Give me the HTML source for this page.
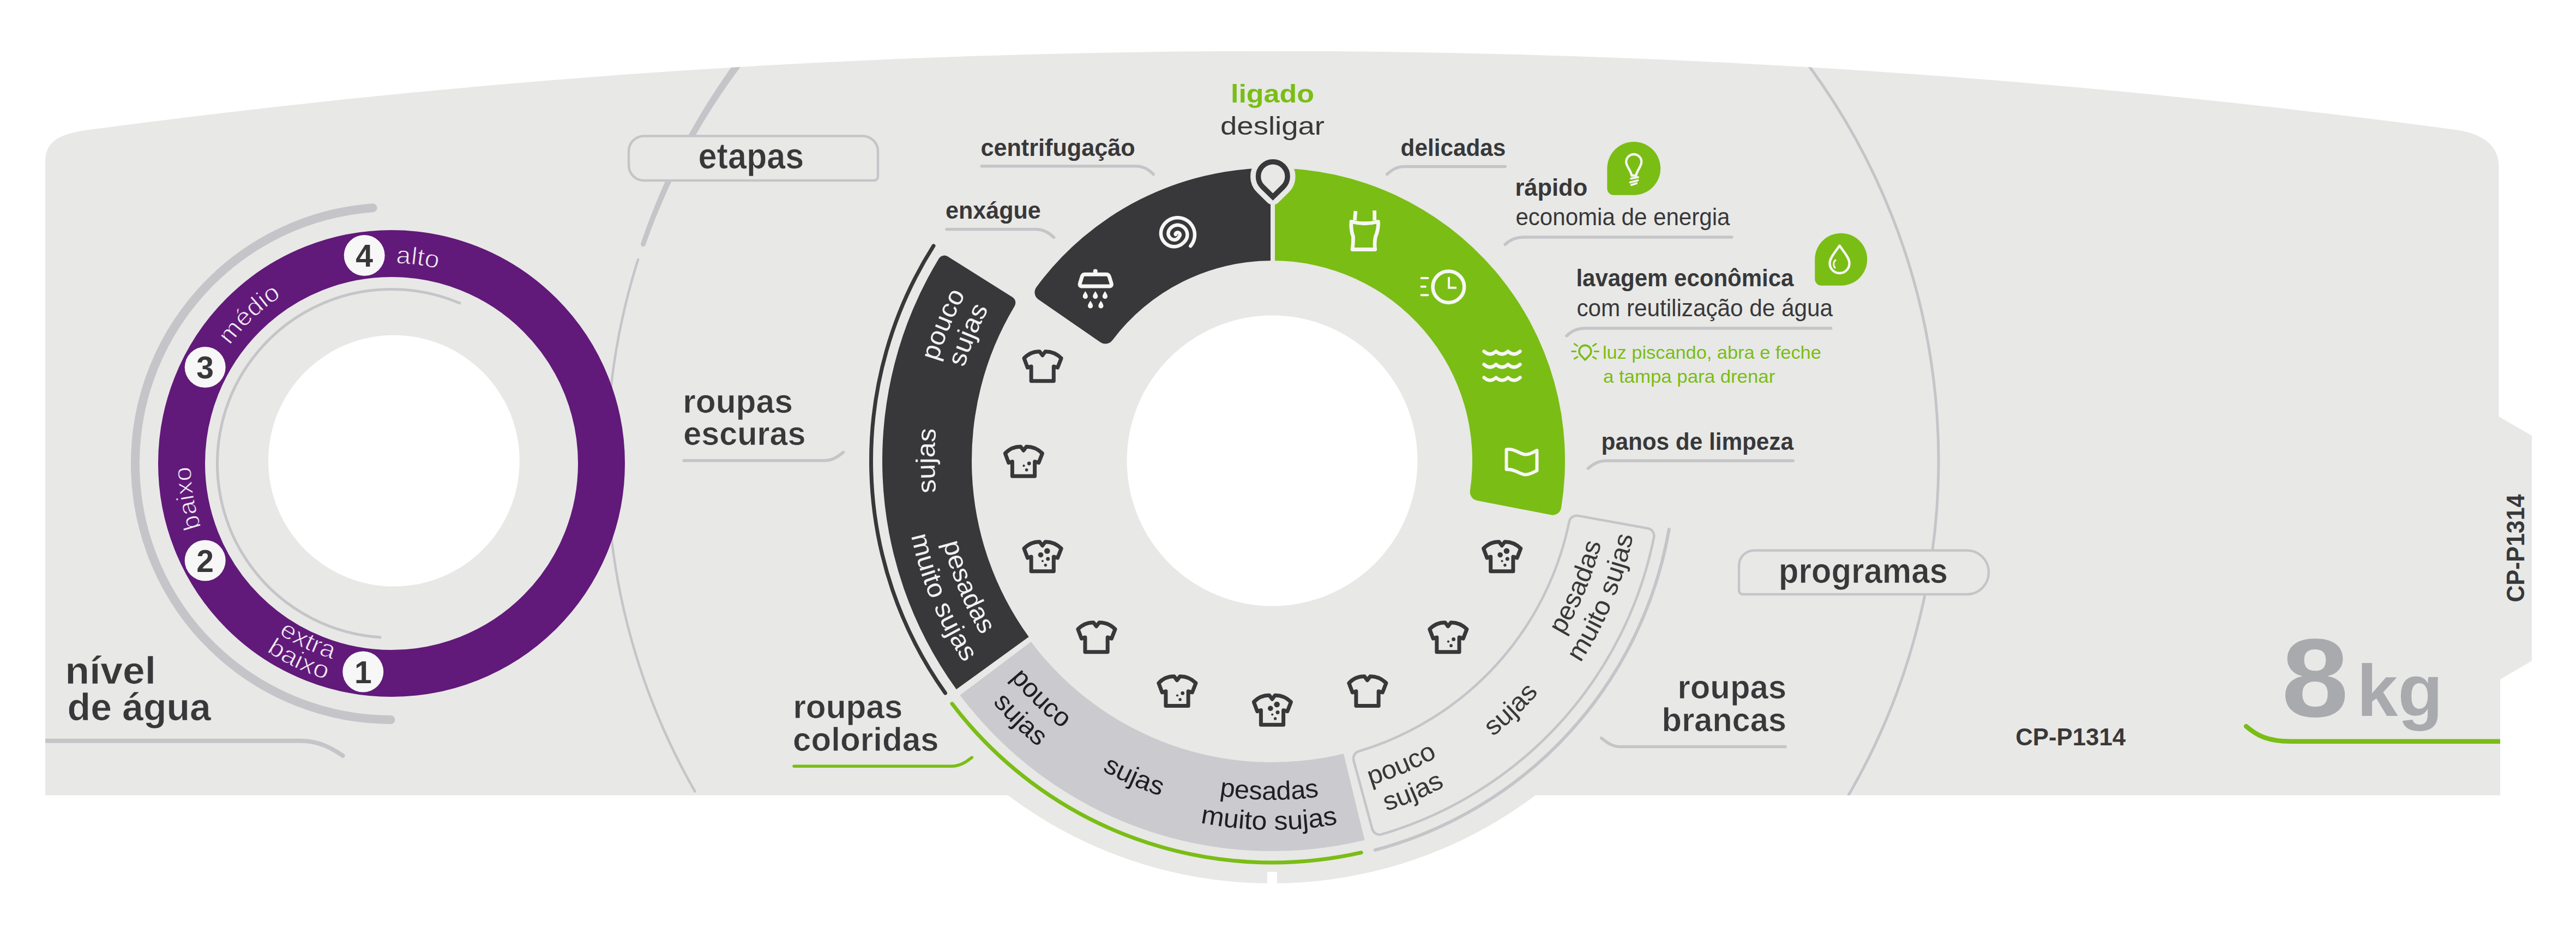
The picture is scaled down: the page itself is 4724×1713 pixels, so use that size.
<!DOCTYPE html><html><head><meta charset="utf-8"><style>html,body{margin:0;padding:0;background:#fff;overflow:hidden}svg{display:block}</style></head><body><svg width="4724" height="1713" viewBox="0 0 4724 1713"><defs><clipPath id="pc"><path d="M83,1458.5 L83,300 C83,262 100,245 175,236.46 A16391,16391 0 0 1 4500,237.5 C4545,243.48 4582.5,262 4582.5,305 L4582.5,764 L4643,799 L4643,1212 L4585,1246 L4585,1458.5 Z"/></clipPath><path id="tp1" d="M367.6,740.86 A367,367 0 0 1 1084.59,832.71"/><path id="tp2" d="M412.32,1053.09 A367,367 0 0 1 935.78,554.6"/><path id="tp3" d="M716.07,1217.99 A368,368 0 0 1 593.95,503.54"/><path id="tp4" d="M356.12,751.68 A375,375 0 0 0 1024.43,1066.16"/><path id="tp5" d="M318.67,740.76 A414,414 0 0 0 1055.88,1089.23"/><path id="tp6" d="M1989.13,1384.77 A640,640 0 0 1 2471.52,220.17"/><path id="tp7" d="M2015.99,1342.6 A590,590 0 0 1 2460.7,268.99"/><path id="tp8" d="M2225.51,1454.6 A619,619 0 0 1 2225.51,235.4"/><path id="tp9" d="M1998.8,320.41 A622,622 0 0 0 2467.63,1452.26"/><path id="tp10" d="M1969.79,274.87 A676,676 0 0 0 2479.31,1504.98"/><path id="tp11" d="M1816.9,494.26 A624,624 0 0 0 2698.01,1351.1"/><path id="tp12" d="M1772.24,463.91 A678,678 0 0 0 2729.6,1394.9"/><path id="tp13" d="M1703.17,692.63 A648,648 0 0 0 2872.73,1203.6"/><path id="tp14" d="M1719.53,947.66 A622,622 0 0 0 2944.58,958.35"/><path id="tp15" d="M1665.28,956.74 A677,677 0 0 0 2998.66,968.37"/><path id="tp16" d="M1811.35,1183.77 A622,622 0 0 0 2939.06,705.08"/><path id="tp17" d="M1766.06,1213.18 A676,676 0 0 0 2991.67,692.93"/><path id="tp18" d="M1950.29,1367.91 A648,648 0 0 0 2871.48,484.52"/><path id="tp19" d="M2198.37,1452.26 A622,622 0 0 0 2667.2,320.41"/><path id="tp20" d="M2186.69,1504.98 A676,676 0 0 0 2696.21,274.87"/></defs><path d="M83,1458.5 L83,300 C83,262 100,245 175,236.46 A16391,16391 0 0 1 4500,237.5 C4545,243.48 4582.5,262 4582.5,305 L4582.5,764 L4643,799 L4643,1212 L4585,1246 L4585,1458.5 Z" fill="#e8e8e6"/>
<path d="M1625.03,1200 A805,805 0 0 0 3039.17,1200 Z" fill="#e8e8e6"/>
<rect x="2324" y="1599" width="18" height="30" fill="#fff"/>
<g clip-path="url(#pc)">
<path d="M1274.33,1451.31 A1220,1220 0 0 1 1170.11,476.11" fill="none" stroke="#c5c5c9" stroke-width="4.5" stroke-linecap="round"/>
<path d="M1175.21,446.34 L1178.5,436.74 L1181.88,427.16 L1185.33,417.61 L1188.86,408.09 L1192.47,398.6 L1196.15,389.14 L1199.92,379.71 L1203.76,370.31 L1207.69,360.95 L1211.69,351.61 L1215.76,342.31 L1219.92,333.04 L1224.15,323.81 L1228.46,314.61 L1232.84,305.44 L1237.3,296.32 L1241.84,287.23 L1246.45,278.17 L1251.14,269.16 L1255.9,260.18 L1260.74,251.25 L1265.65,242.35 L1270.63,233.49 L1275.69,224.68 L1280.82,215.91 L1286.02,207.18 L1291.3,198.49 L1296.65,189.84 L1302.07,181.24 L1307.56,172.69 L1313.12,164.18 L1318.75,155.72 L1324.45,147.3 L1330.23,138.93 L1336.07,130.61 L1341.98,122.34 L1347.96,114.11 L1354.01,105.94 L1360.12,97.81 L1366.31,89.74 L1376.95,98.05 L1370.74,105.97 L1364.6,113.93 L1358.53,121.95 L1352.52,130.02 L1346.59,138.15 L1340.71,146.31 L1334.91,154.53 L1329.17,162.8 L1323.5,171.11 L1317.91,179.47 L1312.38,187.88 L1306.92,196.34 L1301.53,204.84 L1296.21,213.38 L1290.96,221.97 L1285.78,230.6 L1280.67,239.27 L1275.64,247.99 L1270.68,256.75 L1265.79,265.55 L1260.97,274.39 L1256.23,283.27 L1251.56,292.19 L1246.96,301.15 L1242.44,310.15 L1237.99,319.18 L1233.62,328.26 L1229.32,337.36 L1225.1,346.51 L1220.95,355.69 L1216.88,364.9 L1212.89,374.15 L1208.97,383.43 L1205.13,392.74 L1201.37,402.09 L1197.68,411.47 L1194.08,420.87 L1190.55,430.31 L1187.1,439.78 L1183.72,449.27 Z" fill="#c5c5c9"/>
<circle cx="1179.47" cy="447.81" r="4.5" fill="#c5c5c9"/>
<path d="M3295.95,92.66 A1222,1222 0 0 1 3389.14,1459.69" fill="none" stroke="#c5c5c9" stroke-width="5"/>
</g>
<path d="M683.58,381.26 A470,470 0 0 0 716.36,1320" fill="none" stroke="#c5c5c9" stroke-width="16" stroke-linecap="round"/>
<circle cx="718" cy="850" r="385" fill="none" stroke="#61197a" stroke-width="86"/>
<path d="M844.89,556.78 A319.5,319.5 0 1 0 699.05,1168.94" fill="none" stroke="#c5c5c9" stroke-width="5"/>
<circle cx="722.4" cy="845.2" r="230.4" fill="#fff"/>
<circle cx="668.2" cy="468.5" r="37.5" fill="#f7f7f7"/>
<text x="668.2" y="489" font-family='"Liberation Sans", sans-serif' font-size="57" font-weight="bold" fill="#38383a" text-anchor="middle">4</text>
<circle cx="376.2" cy="673.5" r="37.5" fill="#f7f7f7"/>
<text x="376.2" y="694" font-family='"Liberation Sans", sans-serif' font-size="57" font-weight="bold" fill="#38383a" text-anchor="middle">3</text>
<circle cx="376.2" cy="1028" r="37.5" fill="#f7f7f7"/>
<text x="376.2" y="1048.5" font-family='"Liberation Sans", sans-serif' font-size="57" font-weight="bold" fill="#38383a" text-anchor="middle">2</text>
<circle cx="665.8" cy="1232" r="37.5" fill="#f7f7f7"/>
<text x="665.8" y="1252.5" font-family='"Liberation Sans", sans-serif' font-size="57" font-weight="bold" fill="#38383a" text-anchor="middle">1</text>
<text font-family='"Liberation Sans", sans-serif' font-size="45" font-weight="normal" fill="#f4eef6" stroke="#61197a" stroke-width="1.0"><textPath href="#tp1" startOffset="50%" text-anchor="middle" textLength="78" lengthAdjust="spacingAndGlyphs">alto</textPath></text>
<text font-family='"Liberation Sans", sans-serif' font-size="45" font-weight="normal" fill="#f4eef6" stroke="#61197a" stroke-width="1.0"><textPath href="#tp2" startOffset="50%" text-anchor="middle" textLength="132" lengthAdjust="spacingAndGlyphs">médio</textPath></text>
<text font-family='"Liberation Sans", sans-serif' font-size="45" font-weight="normal" fill="#f4eef6" stroke="#61197a" stroke-width="1.0"><textPath href="#tp3" startOffset="50%" text-anchor="middle" textLength="114" lengthAdjust="spacingAndGlyphs">baixo</textPath></text>
<text font-family='"Liberation Sans", sans-serif' font-size="45" font-weight="normal" fill="#f4eef6" stroke="#61197a" stroke-width="1.0"><textPath href="#tp4" startOffset="50%" text-anchor="middle" textLength="110" lengthAdjust="spacingAndGlyphs">extra</textPath></text>
<text font-family='"Liberation Sans", sans-serif' font-size="45" font-weight="normal" fill="#f4eef6" stroke="#61197a" stroke-width="1.0"><textPath href="#tp5" startOffset="50%" text-anchor="middle" textLength="122" lengthAdjust="spacingAndGlyphs">baixo</textPath></text>
<text x="119.2" y="1254.4" font-family='"Liberation Sans", sans-serif' font-size="70" font-weight="bold" fill="#38383a" text-anchor="start" textLength="166.8" lengthAdjust="spacingAndGlyphs" stroke="#e8e8e6" stroke-width="0.7">nível</text>
<text x="123.6" y="1321" font-family='"Liberation Sans", sans-serif' font-size="70" font-weight="bold" fill="#38383a" text-anchor="start" textLength="263.2" lengthAdjust="spacingAndGlyphs" stroke="#e8e8e6" stroke-width="0.7">de água</text>
<path clip-path="url(#pc)" d="M70,1358.8 L551,1358.8 C585,1358.8 608,1372 628.6,1386" fill="none" stroke="#c5c5c9" stroke-width="8" stroke-linecap="round"/>
<path d="M1181,249.5 L1582,249.5 A28,28 0 0 1 1610,277.5 L1610,324 A7,7 0 0 1 1603,331 L1181,331 A28,28 0 0 1 1153,303 L1153,277.5 A28,28 0 0 1 1181,249.5 Z" fill="#e8e8e6" stroke="#c5c5c9" stroke-width="4.5"/>
<text x="1280.6" y="309" font-family='"Liberation Sans", sans-serif' font-size="66" font-weight="bold" fill="#38383a" text-anchor="start" textLength="193.8" lengthAdjust="spacingAndGlyphs" stroke="#e8e8e6" stroke-width="0.7">etapas</text>
<path d="M3217,1009.5 L3607,1009.5 A40,40 0 0 1 3647,1049.5 L3647,1050 A40,40 0 0 1 3607,1090 L3196,1090 A7,7 0 0 1 3189,1083 L3189,1037.5 A28,28 0 0 1 3217,1009.5 Z" fill="#e8e8e6" stroke="#c5c5c9" stroke-width="4.5"/>
<text x="3261.8" y="1068.6" font-family='"Liberation Sans", sans-serif' font-size="64" font-weight="bold" fill="#38383a" text-anchor="start" textLength="310.1" lengthAdjust="spacingAndGlyphs" stroke="#e8e8e6" stroke-width="0.7">programas</text>
<path d="M1733.47,1271.06 A735.5,735.5 0 0 1 1712,450.9" fill="none" stroke="#38383a" stroke-width="7" stroke-linecap="round"/>
<path d="M2496.28,1563.69 A737,737 0 0 1 1745.96,1290.59" fill="none" stroke="#7abd15" stroke-width="7" stroke-linecap="round"/>
<path d="M3060.72,970.7 A738.5,738.5 0 0 1 2521.65,1559" fill="none" stroke="#c5c5c9" stroke-width="6" stroke-linecap="round"/>
<path d="M1753.82,1264.26 A715,715 0 0 1 1721.56,474.38 A12,12 0 0 1 1738.21,470.44 L1856.7,545.06 A12,12 0 0 1 1860.6,561.39 A551,551 0 0 0 1886.67,1168.09 Z" fill="#38383a"/>
<path d="M2502.58,1540.63 A716,716 0 0 1 1760.43,1274.9 L1890.77,1177.03 A553,553 0 0 0 2463.97,1382.27 Z" fill="#cbcbcf"/>
<path d="M3021.8,968.93 A14,14 0 0 1 3033.05,985.47 A714,714 0 0 1 2533.95,1530.14 A14,14 0 0 1 2516.5,1520.38 L2482.4,1394.89 A14,14 0 0 1 2491.91,1377.81 A556,556 0 0 0 2877.63,956.87 A14,14 0 0 1 2893.82,945.91 Z" fill="none" stroke="#c5c5c9" stroke-width="4.5"/>
<path d="M1904.35,549.29 A16,16 0 0 1 1900.55,526.64 A537,537 0 0 1 2333,308 L2333,478 A367,367 0 0 0 2039.88,624.16 A16,16 0 0 1 2018.01,627.71 Z" fill="#38383a"/>
<path d="M2333,308 A537,537 0 0 1 2863.03,931.23 A16,16 0 0 1 2844.19,944.36 L2708.64,918.02 A16,16 0 0 1 2695.87,899.92 A367,367 0 0 0 2333,478 Z" fill="#7abd15"/>
<circle cx="2333" cy="845" r="266.5" fill="#fff"/>
<rect x="2330" y="300" width="8" height="182" fill="#e8e8e6"/>
<path d="M2334.3,361.1 L2315.55,342.75 A26.8,26.8 0 1 1 2353.05,342.75 Z" fill="#e8e8e6" stroke="#e8e8e6" stroke-width="29" stroke-linejoin="round"/>
<path d="M2334.3,361.1 L2315.55,342.75 A26.8,26.8 0 1 1 2353.05,342.75 Z" fill="#e8e8e6" stroke="#38383a" stroke-width="9.5" stroke-linejoin="miter"/>
<g fill="none" stroke="#f6f6f4" stroke-width="7" stroke-linejoin="round" stroke-linecap="round">
<path d="M1989,503.3 L2029,503.3 Q2033,503.3 2034.5,508 L2038,519.5 Q2039.5,525 2034,525 L1984.5,525 Q1979,525 1980.5,519.5 L1984,508 Q1985.5,503.3 1989,503.3 Z"/>
</g>
<circle cx="2008.7" cy="497.5" r="4" fill="#f6f6f4"/>
<path transform="translate(1990.3,541)" d="M0,-7 C2,-3.5 4.6,-0.5 4.6,2.4 A4.6,4.6 0 0 1 -4.6,2.4 C-4.6,-0.5 -2,-3.5 0,-7 Z" fill="#f6f6f4"/>
<path transform="translate(2008.7,541)" d="M0,-7 C2,-3.5 4.6,-0.5 4.6,2.4 A4.6,4.6 0 0 1 -4.6,2.4 C-4.6,-0.5 -2,-3.5 0,-7 Z" fill="#f6f6f4"/>
<path transform="translate(2026.4,541)" d="M0,-7 C2,-3.5 4.6,-0.5 4.6,2.4 A4.6,4.6 0 0 1 -4.6,2.4 C-4.6,-0.5 -2,-3.5 0,-7 Z" fill="#f6f6f4"/>
<path transform="translate(1999.6,558.5)" d="M0,-7 C2,-3.5 4.6,-0.5 4.6,2.4 A4.6,4.6 0 0 1 -4.6,2.4 C-4.6,-0.5 -2,-3.5 0,-7 Z" fill="#f6f6f4"/>
<path transform="translate(2018.9,558.5)" d="M0,-7 C2,-3.5 4.6,-0.5 4.6,2.4 A4.6,4.6 0 0 1 -4.6,2.4 C-4.6,-0.5 -2,-3.5 0,-7 Z" fill="#f6f6f4"/>
<path d="M2183.27,451.17 L2184.87,449.16 L2186.3,447.02 L2187.55,444.78 L2188.62,442.44 L2189.49,440.03 L2190.15,437.55 L2190.62,435.03 L2190.88,432.47 L2190.93,429.91 L2190.77,427.35 L2190.4,424.82 L2189.83,422.32 L2189.05,419.88 L2188.08,417.51 L2186.92,415.22 L2185.58,413.04 L2184.06,410.98 L2182.38,409.05 L2180.55,407.26 L2178.58,405.63 L2176.49,404.16 L2174.28,402.87 L2171.98,401.77 L2169.59,400.85 L2167.14,400.13 L2164.64,399.62 L2162.11,399.31 L2159.55,399.21 L2157,399.32 L2154.47,399.63 L2151.98,400.15 L2149.53,400.87 L2147.15,401.79 L2144.86,402.9 L2142.66,404.19 L2140.57,405.66 L2138.62,407.29 L2136.8,409.07 L2135.14,411 L2133.63,413.05 L2132.3,415.22 L2131.16,417.49 L2130.21,419.85 L2129.52,422.3 L2129.08,424.79 L2128.91,427.31 L2129,429.82 L2129.34,432.29 L2129.92,434.7 L2130.72,437.01 L2131.74,439.21 L2132.96,441.28 L2134.35,443.19 L2135.89,444.94 L2137.56,446.51 L2139.35,447.89 L2141.22,449.09 L2143.16,450.08 L2145.13,450.89 L2147.13,451.5 L2149.13,451.92 L2151.12,452.17 L2153.07,452.25 L2154.97,452.17 L2156.82,451.95 L2158.6,451.59 L2160.3,451.11 L2161.92,450.52 L2163.46,449.84 L2164.92,449.08 L2166.29,448.25 L2167.58,447.36 L2168.79,446.42 L2169.94,445.44 L2171.02,444.41 L2172.05,443.36 L2173.02,442.26 L2173.93,441.12 L2174.74,439.9 L2175.45,438.63 L2176.05,437.3 L2176.54,435.92 L2176.92,434.51 L2177.18,433.08 L2177.33,431.63 L2177.35,430.17 L2177.26,428.72 L2177.05,427.28 L2176.72,425.86 L2176.28,424.48 L2175.72,423.13 L2175.06,421.84 L2174.3,420.6 L2173.44,419.43 L2172.48,418.34 L2171.44,417.33 L2170.33,416.4 L2169.14,415.58 L2167.88,414.85 L2166.58,414.22 L2165.23,413.71 L2163.84,413.3 L2162.42,413.01 L2160.98,412.84 L2159.54,412.79 L2158.1,412.85 L2156.66,413.03 L2155.25,413.33 L2153.87,413.74 L2152.52,414.26 L2151.23,414.89 L2149.99,415.62 L2148.81,416.45 L2147.7,417.38 L2146.68,418.39 L2145.74,419.48 L2144.89,420.64 L2144.15,421.87 L2143.5,423.15 L2142.97,424.48 L2142.61,425.87 L2142.43,427.29 L2142.42,428.71 L2142.57,430.12 L2142.89,431.48 L2143.36,432.78 L2143.96,434.01 L2144.69,435.14 L2145.53,436.16 L2146.46,437.07 L2147.47,437.85 L2148.53,438.5 L2149.62,439.02 L2150.74,439.4 L2151.85,439.66 L2152.95,439.79 L2154.02,439.8 L2155.04,439.7 L2156.01,439.51 L2156.91,439.23 L2157.74,438.88 L2158.5,438.48 L2159.17,438.02 L2159.77,437.54 L2160.29,437.04 L2160.73,436.54 L2161.11,436.05 L2161.44,435.57 L2161.71,435.12 L2161.95,434.7 L2162.16,434.31 L2162.36,433.96 L2162.56,433.64 L2162.78,433.35 L2162.99,433.07 L2163.18,432.78 L2163.35,432.46 L2163.49,432.14 L2163.6,431.81 L2163.69,431.47 L2163.75,431.12 L2163.78,430.77 L2163.78,430.42 L2163.75,430.08 L2163.69,429.73 L2163.61,429.4 L2163.5,429.07 L2163.36,428.75 L2163.2,428.44 L2163.01,428.15 L2162.8,427.88 L2162.57,427.62 L2162.32,427.39 L2162.06,427.17 L2161.77,426.98 L2161.48,426.82 L2161.17,426.67 L2160.85,426.56 L2160.52,426.47 L2160.18,426.41 L2159.85,426.37 L2159.51,426.37 L2159.17,426.39 L2158.84,426.43 L2158.51,426.51 L2158.19,426.61 L2157.88,426.73 L2157.59,426.89 L2157.3,427.06 L2157.03,427.26 L2156.78,427.47 L2156.55,427.71 L2156.34,427.96 L2156.15,428.24 L2155.98,428.52 L2155.84,428.82 L2155.73,429.13 L2155.71,429.46 L2155.77,429.8 L2155.92,430.12" fill="none" stroke="#f6f6f4" stroke-width="6.5" stroke-linecap="round"/>
<path d="M2485.8,387 L2484.5,404 M2520.7,386 L2520.7,404 M2478,406.5 Q2502.5,413 2527.5,406.5 Q2528,422 2522.5,434 Q2520,446 2521.7,457.5 L2480,457.5 Q2482,446 2481.5,434 Q2477,422 2478,406.5 Z" fill="none" stroke="#f6f6f4" stroke-width="6.8" stroke-linejoin="round" stroke-linecap="butt"/>
<circle cx="2656.4" cy="526.2" r="28.8" fill="none" stroke="#f6f6f4" stroke-width="6.5"/>
<path d="M2657,508 L2657,527.8 L2671,527.8" fill="none" stroke="#f6f6f4" stroke-width="4"/><path d="M2606.5,510 L2618.5,510 M2606.5,525.7 L2614,525.7 M2606.5,541.2 L2618.5,541.2" fill="none" stroke="#f6f6f4" stroke-width="4" stroke-linecap="round"/>
<path d="M2721.5,644.3 Q2732.5,654.3 2743.5,644.3 Q2754.5,654.3 2765.5,644.3 Q2776.5,654.3 2787.5,644.3M2721.5,668.4 Q2732.5,678.4 2743.5,668.4 Q2754.5,678.4 2765.5,668.4 Q2776.5,678.4 2787.5,668.4M2721.5,692.5 Q2732.5,702.5 2743.5,692.5 Q2754.5,702.5 2765.5,692.5 Q2776.5,702.5 2787.5,692.5" fill="none" stroke="#f6f6f4" stroke-width="6.4" stroke-linecap="round" stroke-linejoin="round"/>
<path d="M2762.5,824.5 C2776,822 2786,832 2796,833.5 C2805,834.5 2812,829 2818.5,826 L2818.5,863 C2812,866 2805,871 2796,870.5 C2786,869 2776,859.5 2762.5,861 Z" fill="none" stroke="#f6f6f4" stroke-width="6" stroke-linejoin="round"/>
<g transform="translate(1911.71,671.5)"><path d="M-5.4,-26.8 L0,-19.8 L5.4,-26.8 Q22,-27 34.5,-14.5 L27.8,2.7 L20.6,0.5 L20.6,27.3 L-20.6,27.3 L-20.6,0.5 L-27.3,2.7 L-33.7,-14.5 Q-22,-27 -5.4,-26.8 Z" fill="none" stroke="#38383a" stroke-width="7" stroke-linejoin="round"/></g>
<g transform="translate(1877,846)"><path d="M-5.4,-26.8 L0,-19.8 L5.4,-26.8 Q22,-27 34.5,-14.5 L27.8,2.7 L20.6,0.5 L20.6,27.3 L-20.6,27.3 L-20.6,0.5 L-27.3,2.7 L-33.7,-14.5 Q-22,-27 -5.4,-26.8 Z" fill="none" stroke="#38383a" stroke-width="7" stroke-linejoin="round"/><circle cx="10.2" cy="4" r="3.4" fill="#38383a"/><circle cx="0.5" cy="8.2" r="2.1" fill="#38383a"/><circle cx="5.6" cy="15.7" r="2.8" fill="#38383a"/></g>
<g transform="translate(1911.71,1020.5)"><path d="M-5.4,-26.8 L0,-19.8 L5.4,-26.8 Q22,-27 34.5,-14.5 L27.8,2.7 L20.6,0.5 L20.6,27.3 L-20.6,27.3 L-20.6,0.5 L-27.3,2.7 L-33.7,-14.5 Q-22,-27 -5.4,-26.8 Z" fill="none" stroke="#38383a" stroke-width="7" stroke-linejoin="round"/><circle cx="8.6" cy="-10" r="5.3" fill="#38383a"/><circle cx="-3.2" cy="-2.8" r="4.8" fill="#38383a"/><circle cx="10" cy="4.4" r="3.5" fill="#38383a"/><circle cx="0.2" cy="8.5" r="2.1" fill="#38383a"/><circle cx="5.6" cy="16" r="2.7" fill="#38383a"/></g>
<g transform="translate(2010.56,1168.44)"><path d="M-5.4,-26.8 L0,-19.8 L5.4,-26.8 Q22,-27 34.5,-14.5 L27.8,2.7 L20.6,0.5 L20.6,27.3 L-20.6,27.3 L-20.6,0.5 L-27.3,2.7 L-33.7,-14.5 Q-22,-27 -5.4,-26.8 Z" fill="none" stroke="#38383a" stroke-width="7" stroke-linejoin="round"/></g>
<g transform="translate(2158.5,1267.29)"><path d="M-5.4,-26.8 L0,-19.8 L5.4,-26.8 Q22,-27 34.5,-14.5 L27.8,2.7 L20.6,0.5 L20.6,27.3 L-20.6,27.3 L-20.6,0.5 L-27.3,2.7 L-33.7,-14.5 Q-22,-27 -5.4,-26.8 Z" fill="none" stroke="#38383a" stroke-width="7" stroke-linejoin="round"/><circle cx="10.2" cy="4" r="3.4" fill="#38383a"/><circle cx="0.5" cy="8.2" r="2.1" fill="#38383a"/><circle cx="5.6" cy="15.7" r="2.8" fill="#38383a"/></g>
<g transform="translate(2333,1302)"><path d="M-5.4,-26.8 L0,-19.8 L5.4,-26.8 Q22,-27 34.5,-14.5 L27.8,2.7 L20.6,0.5 L20.6,27.3 L-20.6,27.3 L-20.6,0.5 L-27.3,2.7 L-33.7,-14.5 Q-22,-27 -5.4,-26.8 Z" fill="none" stroke="#38383a" stroke-width="7" stroke-linejoin="round"/><circle cx="8.6" cy="-10" r="5.3" fill="#38383a"/><circle cx="-3.2" cy="-2.8" r="4.8" fill="#38383a"/><circle cx="10" cy="4.4" r="3.5" fill="#38383a"/><circle cx="0.2" cy="8.5" r="2.1" fill="#38383a"/><circle cx="5.6" cy="16" r="2.7" fill="#38383a"/></g>
<g transform="translate(2507.5,1267.29)"><path d="M-5.4,-26.8 L0,-19.8 L5.4,-26.8 Q22,-27 34.5,-14.5 L27.8,2.7 L20.6,0.5 L20.6,27.3 L-20.6,27.3 L-20.6,0.5 L-27.3,2.7 L-33.7,-14.5 Q-22,-27 -5.4,-26.8 Z" fill="none" stroke="#38383a" stroke-width="7" stroke-linejoin="round"/></g>
<g transform="translate(2655.44,1168.44)"><path d="M-5.4,-26.8 L0,-19.8 L5.4,-26.8 Q22,-27 34.5,-14.5 L27.8,2.7 L20.6,0.5 L20.6,27.3 L-20.6,27.3 L-20.6,0.5 L-27.3,2.7 L-33.7,-14.5 Q-22,-27 -5.4,-26.8 Z" fill="none" stroke="#38383a" stroke-width="7" stroke-linejoin="round"/><circle cx="10.2" cy="4" r="3.4" fill="#38383a"/><circle cx="0.5" cy="8.2" r="2.1" fill="#38383a"/><circle cx="5.6" cy="15.7" r="2.8" fill="#38383a"/></g>
<g transform="translate(2754.29,1020.5)"><path d="M-5.4,-26.8 L0,-19.8 L5.4,-26.8 Q22,-27 34.5,-14.5 L27.8,2.7 L20.6,0.5 L20.6,27.3 L-20.6,27.3 L-20.6,0.5 L-27.3,2.7 L-33.7,-14.5 Q-22,-27 -5.4,-26.8 Z" fill="none" stroke="#38383a" stroke-width="7" stroke-linejoin="round"/><circle cx="8.6" cy="-10" r="5.3" fill="#38383a"/><circle cx="-3.2" cy="-2.8" r="4.8" fill="#38383a"/><circle cx="10" cy="4.4" r="3.5" fill="#38383a"/><circle cx="0.2" cy="8.5" r="2.1" fill="#38383a"/><circle cx="5.6" cy="16" r="2.7" fill="#38383a"/></g>
<text font-family='"Liberation Sans", sans-serif' font-size="48" font-weight="normal" fill="#f2f2f2"><textPath href="#tp6" startOffset="50%" text-anchor="middle" textLength="134" lengthAdjust="spacingAndGlyphs">pouco</textPath></text>
<text font-family='"Liberation Sans", sans-serif' font-size="48" font-weight="normal" fill="#f2f2f2"><textPath href="#tp7" startOffset="50%" text-anchor="middle" textLength="117" lengthAdjust="spacingAndGlyphs">sujas</textPath></text>
<text font-family='"Liberation Sans", sans-serif' font-size="48" font-weight="normal" fill="#f2f2f2"><textPath href="#tp8" startOffset="50%" text-anchor="middle" textLength="117" lengthAdjust="spacingAndGlyphs">sujas</textPath></text>
<text font-family='"Liberation Sans", sans-serif' font-size="48" font-weight="normal" fill="#f2f2f2"><textPath href="#tp9" startOffset="50%" text-anchor="middle" textLength="184" lengthAdjust="spacingAndGlyphs">pesadas</textPath></text>
<text font-family='"Liberation Sans", sans-serif' font-size="48" font-weight="normal" fill="#f2f2f2"><textPath href="#tp10" startOffset="50%" text-anchor="middle" textLength="254" lengthAdjust="spacingAndGlyphs">muito sujas</textPath></text>
<text font-family='"Liberation Sans", sans-serif' font-size="48" font-weight="normal" fill="#1f1e21"><textPath href="#tp11" startOffset="50%" text-anchor="middle" textLength="134" lengthAdjust="spacingAndGlyphs">pouco</textPath></text>
<text font-family='"Liberation Sans", sans-serif' font-size="48" font-weight="normal" fill="#1f1e21"><textPath href="#tp12" startOffset="50%" text-anchor="middle" textLength="117" lengthAdjust="spacingAndGlyphs">sujas</textPath></text>
<text font-family='"Liberation Sans", sans-serif' font-size="48" font-weight="normal" fill="#1f1e21"><textPath href="#tp13" startOffset="50%" text-anchor="middle" textLength="117" lengthAdjust="spacingAndGlyphs">sujas</textPath></text>
<text font-family='"Liberation Sans", sans-serif' font-size="48" font-weight="normal" fill="#1f1e21"><textPath href="#tp14" startOffset="50%" text-anchor="middle" textLength="184" lengthAdjust="spacingAndGlyphs">pesadas</textPath></text>
<text font-family='"Liberation Sans", sans-serif' font-size="48" font-weight="normal" fill="#1f1e21"><textPath href="#tp15" startOffset="50%" text-anchor="middle" textLength="254" lengthAdjust="spacingAndGlyphs">muito sujas</textPath></text>
<text font-family='"Liberation Sans", sans-serif' font-size="48" font-weight="normal" fill="#38383a"><textPath href="#tp16" startOffset="50%" text-anchor="middle" textLength="134" lengthAdjust="spacingAndGlyphs">pouco</textPath></text>
<text font-family='"Liberation Sans", sans-serif' font-size="48" font-weight="normal" fill="#38383a"><textPath href="#tp17" startOffset="50%" text-anchor="middle" textLength="117" lengthAdjust="spacingAndGlyphs">sujas</textPath></text>
<text font-family='"Liberation Sans", sans-serif' font-size="48" font-weight="normal" fill="#38383a"><textPath href="#tp18" startOffset="50%" text-anchor="middle" textLength="117" lengthAdjust="spacingAndGlyphs">sujas</textPath></text>
<text font-family='"Liberation Sans", sans-serif' font-size="48" font-weight="normal" fill="#38383a"><textPath href="#tp19" startOffset="50%" text-anchor="middle" textLength="184" lengthAdjust="spacingAndGlyphs">pesadas</textPath></text>
<text font-family='"Liberation Sans", sans-serif' font-size="48" font-weight="normal" fill="#38383a"><textPath href="#tp20" startOffset="50%" text-anchor="middle" textLength="254" lengthAdjust="spacingAndGlyphs">muito sujas</textPath></text>
<text x="1252.2" y="756.9" font-family='"Liberation Sans", sans-serif' font-size="61" font-weight="bold" fill="#38383a" text-anchor="start" textLength="201.6" lengthAdjust="spacingAndGlyphs" stroke="#e8e8e6" stroke-width="0.7">roupas</text>
<text x="1253.2" y="816.3" font-family='"Liberation Sans", sans-serif' font-size="61" font-weight="bold" fill="#38383a" text-anchor="start" textLength="224.4" lengthAdjust="spacingAndGlyphs" stroke="#e8e8e6" stroke-width="0.7">escuras</text>
<path d="M1254,844.8 L1512,844.8 C1526,844.8 1536,838 1546.5,829.5" fill="none" stroke="#c5c5c9" stroke-width="5.5" stroke-linecap="round"/>
<text x="1454.4" y="1317.1" font-family='"Liberation Sans", sans-serif' font-size="61" font-weight="bold" fill="#38383a" text-anchor="start" textLength="201" lengthAdjust="spacingAndGlyphs" stroke="#e8e8e6" stroke-width="0.7">roupas</text>
<text x="1454" y="1376.8" font-family='"Liberation Sans", sans-serif' font-size="61" font-weight="bold" fill="#38383a" text-anchor="start" textLength="267.6" lengthAdjust="spacingAndGlyphs" stroke="#e8e8e6" stroke-width="0.7">coloridas</text>
<path d="M1456,1405.3 L1745,1405.3 C1760,1405.3 1771,1398 1782.2,1389.3" fill="none" stroke="#7abd15" stroke-width="5.5" stroke-linecap="round"/>
<text x="3276" y="1281.3" font-family='"Liberation Sans", sans-serif' font-size="61" font-weight="bold" fill="#38383a" text-anchor="end" textLength="199.5" lengthAdjust="spacingAndGlyphs" stroke="#e8e8e6" stroke-width="0.7">roupas</text>
<text x="3276" y="1341.1" font-family='"Liberation Sans", sans-serif' font-size="61" font-weight="bold" fill="#38383a" text-anchor="end" textLength="228.5" lengthAdjust="spacingAndGlyphs" stroke="#e8e8e6" stroke-width="0.7">brancas</text>
<path d="M2936.6,1353.6 C2946,1361 2956,1369.6 2972,1369.6 L3274,1369.6" fill="none" stroke="#c5c5c9" stroke-width="5.5" stroke-linecap="round"/>
<text x="1798.4" y="285.5" font-family='"Liberation Sans", sans-serif' font-size="45" font-weight="bold" fill="#38383a" text-anchor="start" textLength="283.2" lengthAdjust="spacingAndGlyphs">centrifugação</text>
<path d="M1800.2,304.8 L2083,304.8 C2097,304.8 2107,311 2115,319.7" fill="none" stroke="#c5c5c9" stroke-width="5.5" stroke-linecap="round"/>
<text x="1734" y="401.2" font-family='"Liberation Sans", sans-serif' font-size="45" font-weight="bold" fill="#38383a" text-anchor="start" textLength="174.8" lengthAdjust="spacingAndGlyphs">enxágue</text>
<path d="M1736,420.5 L1900,420.5 C1914,420.5 1924,427 1932.6,435.4" fill="none" stroke="#c5c5c9" stroke-width="5.5" stroke-linecap="round"/>
<text x="2257" y="187.5" font-family='"Liberation Sans", sans-serif' font-size="47" font-weight="bold" fill="#7abd15" text-anchor="start" textLength="153" lengthAdjust="spacingAndGlyphs">ligado</text>
<text x="2238" y="246.9" font-family='"Liberation Sans", sans-serif' font-size="47" font-weight="normal" fill="#38383a" text-anchor="start" textLength="191" lengthAdjust="spacingAndGlyphs">desligar</text>
<text x="2568.6" y="286.2" font-family='"Liberation Sans", sans-serif' font-size="45" font-weight="bold" fill="#38383a" text-anchor="start" textLength="192.6" lengthAdjust="spacingAndGlyphs">delicadas</text>
<path d="M2543.8,319.6 C2552,312 2561,305.4 2575,305.4 L2760.3,305.4" fill="none" stroke="#c5c5c9" stroke-width="5.5" stroke-linecap="round"/>
<text x="2778.4" y="358.9" font-family='"Liberation Sans", sans-serif' font-size="45" font-weight="bold" fill="#38383a" text-anchor="start" textLength="132.8" lengthAdjust="spacingAndGlyphs">rápido</text>
<text x="2779.4" y="413.1" font-family='"Liberation Sans", sans-serif' font-size="44" font-weight="normal" fill="#38383a" text-anchor="start" textLength="393" lengthAdjust="spacingAndGlyphs">economia de energia</text>
<path d="M2760,448.4 C2768,441 2778,435 2794,435 L3175.7,435" fill="none" stroke="#c5c5c9" stroke-width="5.5" stroke-linecap="round"/>
<text x="2890.4" y="525.3" font-family='"Liberation Sans", sans-serif' font-size="45" font-weight="bold" fill="#38383a" text-anchor="start" textLength="399" lengthAdjust="spacingAndGlyphs">lavagem econômica</text>
<text x="2891.4" y="579.6" font-family='"Liberation Sans", sans-serif' font-size="44" font-weight="normal" fill="#38383a" text-anchor="start" textLength="469.6" lengthAdjust="spacingAndGlyphs">com reutilização de água</text>
<path d="M2872.8,615.9 C2881,608 2891,602 2910,602 L3357.7,602" fill="none" stroke="#c5c5c9" stroke-width="5.5" stroke-linecap="round"/>
<text x="2938.9" y="657.6" font-family='"Liberation Sans", sans-serif' font-size="33" font-weight="normal" fill="#7abd15" text-anchor="start" textLength="400.9" lengthAdjust="spacingAndGlyphs">luz piscando, abra e feche</text>
<text x="2939.9" y="701.6" font-family='"Liberation Sans", sans-serif' font-size="33" font-weight="normal" fill="#7abd15" text-anchor="start" textLength="315.4" lengthAdjust="spacingAndGlyphs">a tampa para drenar</text>
<text x="2936.6" y="824.9" font-family='"Liberation Sans", sans-serif' font-size="45" font-weight="bold" fill="#38383a" text-anchor="start" textLength="352.4" lengthAdjust="spacingAndGlyphs">panos de limpeza</text>
<path d="M2912.5,859 C2921,851 2931,844.9 2946,844.9 L3288.2,844.9" fill="none" stroke="#c5c5c9" stroke-width="5.5" stroke-linecap="round"/>
<path d="M2947.3,308.9 A48.9,48.9 0 1 1 2996.2,357.8 L2959.3,357.8 A12,12 0 0 1 2947.3,345.8 Z" fill="#7abd15"/>
<path d="M2992.3,322 C2991,313 2982.2,305 2982.2,297 A14,14 0 0 1 3010.2,297 C3010.2,305 3001.5,313 3000.3,322 Z" fill="none" stroke="#f6f6f4" stroke-width="4.3" stroke-linejoin="round"/>
<path d="M2991,327.5 L3004,325 M2989.5,334.5 L3003.5,330.8 M2991.7,339.2 L3001.3,336.3" fill="none" stroke="#f6f6f4" stroke-width="3.8" stroke-linecap="round"/>
<path d="M3328.2,475.7 A48,48 0 1 1 3376.2,523.7 L3340.2,523.7 A12,12 0 0 1 3328.2,511.7 Z" fill="#7abd15"/>
<path d="M3373.5,450.5 C3365,463 3355.5,473 3355.5,483 A18,18 0 0 0 3391.5,483 C3391.5,473 3382,463 3373.5,450.5 Z" fill="none" stroke="#f6f6f4" stroke-width="4.5" stroke-linejoin="round"/>
<path d="M3366,477 A10,10 0 0 0 3365,491" fill="none" stroke="#f6f6f4" stroke-width="3" stroke-linecap="round"/>
<path d="M2906.9,660 L2899.06,651.87 A10.9,10.9 0 1 1 2914.74,651.87 Z" fill="none" stroke="#7abd15" stroke-width="3.6" stroke-linejoin="round"/>
<path d="M2887.2,630.6 L2892.5,634.4 M2927,630.6 L2921.4,634.4 M2882.7,644.5 L2889.5,644.5 M2924.3,644.5 L2931.5,644.5 M2887.2,658 L2892.9,654.6 M2927,658 L2921.4,654.6" fill="none" stroke="#7abd15" stroke-width="3" stroke-linecap="round"/>
<text x="3696.2" y="1366.5" font-family='"Liberation Sans", sans-serif' font-size="44" font-weight="bold" fill="#38383a" text-anchor="start" textLength="201.9" lengthAdjust="spacingAndGlyphs">CP-P1314</text>
<text x="4629" y="1104.6" font-family='"Liberation Sans", sans-serif' font-size="46" font-weight="bold" fill="#38383a" text-anchor="start" textLength="198" lengthAdjust="spacingAndGlyphs" transform="rotate(-90 4629 1104.6)">CP-P1314</text>
<text x="4184" y="1314" font-family='"Liberation Sans", sans-serif' font-size="204" font-weight="bold" fill="#a9aaae" text-anchor="start" textLength="123" lengthAdjust="spacingAndGlyphs">8</text>
<text x="4322" y="1312.7" font-family='"Liberation Sans", sans-serif' font-size="133" font-weight="bold" fill="#a9aaae" text-anchor="start" textLength="158" lengthAdjust="spacingAndGlyphs">kg</text>
<path clip-path="url(#pc)" d="M4119,1332 C4140,1350 4160,1359.7 4200,1359.7 L4600,1359.7" fill="none" stroke="#7abd15" stroke-width="8.5" stroke-linecap="round"/></svg></body></html>
